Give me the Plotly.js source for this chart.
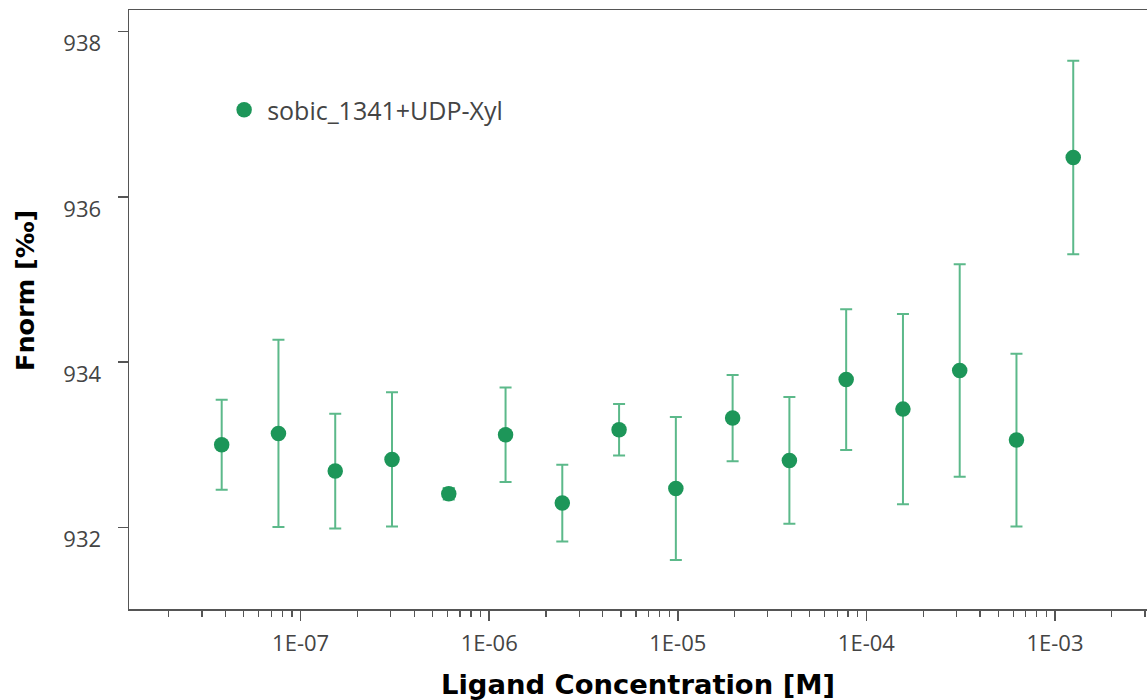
<!DOCTYPE html>
<html><head><meta charset="utf-8">
<script src="https://cdn.plot.ly/plotly-3.0.1.min.js"></script>
<style>html,body{margin:0;padding:0;background:#fff}</style>
</head><body><div id="chart" style="width:1147px;height:700px"></div>
<script>
const seriesName = 'sobic_1341+UDP-Xyl';
const concentrationM = [3.815e-8, 7.629e-8, 1.526e-7, 3.052e-7, 6.104e-7, 1.221e-6, 2.441e-6, 4.883e-6,
  9.766e-6, 1.953e-5, 3.906e-5, 7.813e-5, 1.563e-4, 3.125e-4, 6.25e-4, 1.25e-3];
const fnorm = [933.000, 933.137, 932.682, 932.823, 932.408, 933.121, 932.295, 933.182,
  932.472, 933.324, 932.811, 933.790, 933.432, 933.899, 933.057, 936.476];
const fnormErr = [0.544, 1.133, 0.694, 0.812, 0.07, 0.572, 0.465, 0.312,
  0.865, 0.522, 0.767, 0.852, 1.151, 1.285, 1.045, 1.171];
const xTickVals = [1e-7, 1e-6, 1e-5, 1e-4, 1e-3];
const xTickText = ['1E-07', '1E-06', '1E-05', '1E-04', '1E-03'];
const yTickVals = [932, 934, 936, 938];
const xTitle = 'Ligand Concentration [M]';
const yTitle = 'Fnorm [‰]';

const minorVals = [];
for (let e = -9; e <= -2; e++) for (let m = 2; m <= 9; m++) minorVals.push(m * Math.pow(10, e));

const trace = {
  x: concentrationM, y: fnorm, name: seriesName, type: 'scatter', mode: 'markers',
  marker: {color: '#1d9659', size: 15.5},
  error_y: {type: 'data', array: fnormErr, visible: true, color: '#5cb98a', thickness: 2, width: 6}
};
const axisFont = {family: 'Open Sans, Noto Sans, sans-serif', size: 22, color: '#444'};
const xTitleFont = {family: 'DejaVu Sans, Liberation Sans, sans-serif', size: 27.4, color: '#000', weight: 'bold'};
const yTitleFont = {family: 'DejaVu Sans, Liberation Sans, sans-serif', size: 25.5, color: '#000', weight: 'bold'};
const layout = {
  width: 1147, height: 700,
  margin: {l: 129, r: 0, t: 10, b: 91},
  paper_bgcolor: '#fff', plot_bgcolor: '#fff',
  showlegend: true,
  legend: {x: 0.0905, y: 0.833, xanchor: 'left', yanchor: 'middle', bgcolor: 'rgba(0,0,0,0)',
    itemwidth: 36,
    font: {family: 'Open Sans, Noto Sans, sans-serif', size: 25, color: '#444'}},
  xaxis: {
    type: 'log', range: [-7.910, -2.512],
    tickmode: 'array', tickvals: xTickVals, ticktext: xTickText,
    ticks: 'outside', ticklen: 10, tickwidth: 1.5, tickcolor: '#555',
    showline: true, linecolor: '#555', linewidth: 1.5, mirror: true,
    showgrid: false, zeroline: false, tickfont: axisFont, ticklabelstandoff: 4,
    minor: {tickmode: 'array', tickvals: minorVals, ticks: 'outside', ticklen: 6, tickwidth: 1.2, tickcolor: '#555', showgrid: false},
    title: {text: xTitle, font: xTitleFont, standoff: 22}
  },
  yaxis: {
    range: [931.013, 938.262],
    tickmode: 'array', tickvals: yTickVals,
    ticks: 'outside', ticklen: 10, tickwidth: 1.5, tickcolor: '#555',
    showline: true, linecolor: '#555', linewidth: 1.5,
    showgrid: false, zeroline: false, tickfont: axisFont,
    ticklabelshift: 12, ticklabelstandoff: 12
  },
  annotations: [{
    text: yTitle, textangle: -90, xref: 'paper', yref: 'paper',
    x: -104 / 1018, y: (609 - 291) / 599, xanchor: 'center', yanchor: 'middle',
    showarrow: false, font: yTitleFont
  }]
};
Plotly.newPlot('chart', [trace], layout, {displayModeBar: false, staticPlot: true});
</script></body></html>
